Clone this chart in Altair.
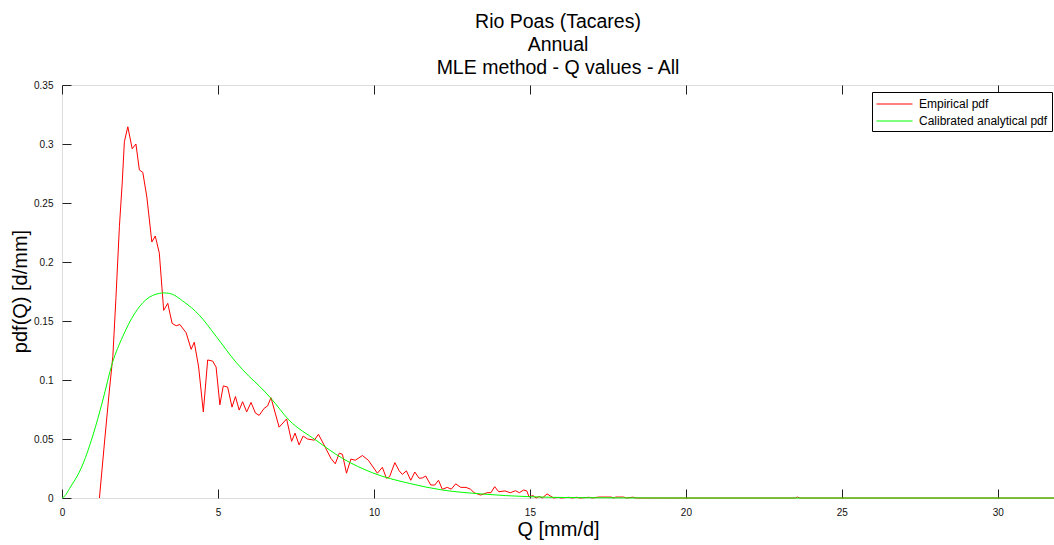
import altair as alt
import pandas as pd

series_names = ["Empirical pdf", "Calibrated analytical pdf"]
series_colors = ["#ff0000", "#00ff00"]

emp_q = [1.2, 1.36, 1.52, 1.63, 1.73, 1.84, 1.93, 2.0, 2.11, 2.25, 2.37, 2.48, 2.59, 2.72,
         2.88, 2.99, 3.12, 3.26, 3.39, 3.53, 3.66, 3.78, 3.98, 4.14, 4.24, 4.38, 4.53, 4.67,
         4.83, 4.94, 5.06, 5.17, 5.31, 5.45, 5.56, 5.68, 5.79, 5.92, 6.06, 6.2, 6.32, 6.48,
         6.59, 6.70, 6.96, 7.2, 7.36, 7.47, 7.6, 7.73, 7.87, 8.09, 8.22, 8.4, 8.62, 8.76,
         8.89, 8.99, 9.12, 9.26, 9.40, 9.63, 9.82, 10.11, 10.27, 10.4, 10.5, 10.67, 10.81,
         10.91, 11.04, 11.18, 11.31, 11.45, 11.55, 11.66, 11.82, 11.95, 12.07, 12.19, 12.35,
         12.48, 12.62, 12.78, 12.95, 13.1, 13.21, 13.42, 13.63, 13.75, 13.87, 14.0, 14.2,
         14.37, 14.54, 14.66, 14.8, 14.9, 14.97, 15.1, 15.2, 15.3, 15.4, 15.55, 15.65, 15.76,
         15.9, 16.0, 16.25, 16.35, 16.5, 16.6, 16.9, 17.0, 17.2, 17.6, 17.7, 17.75, 18.0,
         18.1, 18.3, 18.4, 23.5, 23.57, 23.65, 31.8]
emp_pdf = [0.0, 0.0466, 0.0915, 0.12, 0.17, 0.23, 0.267, 0.302, 0.3146, 0.296, 0.300, 0.278,
           0.276, 0.255, 0.217, 0.222, 0.2075, 0.159, 0.165, 0.148, 0.146, 0.147, 0.140,
           0.126, 0.132, 0.111, 0.073, 0.117, 0.116, 0.111, 0.079, 0.095, 0.094, 0.077,
           0.086, 0.0745, 0.0816, 0.073, 0.081, 0.072, 0.070, 0.076, 0.078, 0.085, 0.060,
           0.067, 0.048, 0.055, 0.045, 0.0525, 0.050, 0.049, 0.054, 0.045, 0.0336, 0.029,
           0.038, 0.037, 0.021, 0.033, 0.032, 0.036, 0.032, 0.021, 0.026, 0.0167, 0.018,
           0.030, 0.023, 0.020, 0.023, 0.015, 0.022, 0.0167, 0.017, 0.0186, 0.011, 0.011,
           0.015, 0.0074, 0.009, 0.0075, 0.012, 0.009, 0.009, 0.0074, 0.0045, 0.0025,
           0.0045, 0.0045, 0.0096, 0.0053, 0.006, 0.0045, 0.0062, 0.0045, 0.0068, 0.006,
           0.001, 0.002, 0.0, 0.0013, 0.0, 0.0035, 0.0018, 0.0, 0.0005, 0.0, 0.0006, 0.0,
           0.0006, 0.0, 0.0006, 0.0, 0.0008, 0.0008, 0.0, 0.0008, 0.0008, 0.0, 0.0007, 0.0,
           0.0, 0.0008, 0.0, 0.0]

fit_q = [0.0, 0.1, 0.24, 0.61, 0.99, 1.31, 1.61, 1.95, 2.32, 2.69, 3.12, 3.25, 3.44, 3.92,
         4.40, 4.94, 5.58, 6.0, 6.32, 6.70, 7.28, 8.14, 8.99, 9.95, 11.13, 12.19, 13.47,
         14.97, 16.5, 18.0, 20.0, 25.0, 31.8]
fit_pdf = [0.0, 0.002, 0.008, 0.025, 0.053, 0.083, 0.114, 0.137, 0.156, 0.168, 0.1734,
           0.1738, 0.1734, 0.166, 0.155, 0.137, 0.115, 0.103, 0.095, 0.0844, 0.066, 0.049,
           0.0336, 0.0214, 0.0124, 0.0068, 0.0034, 0.0011, 0.0003, 0.0001, 0.0, 0.0, 0.0]

x_ticks = [0, 5, 10, 15, 20, 25, 30]
y_ticks = [0, 0.05, 0.1, 0.15, 0.2, 0.25, 0.3, 0.35]

title_lines = ["Rio Poas (Tacares)", "Annual", "MLE method - Q values - All"]

emp_df = pd.DataFrame({"Q": emp_q, "pdf": emp_pdf, "series": series_names[0],
                       "idx": range(len(emp_q))})
fit_df = pd.DataFrame({"Q": fit_q, "pdf": fit_pdf, "series": series_names[1],
                       "idx": range(len(fit_q))})

FONT = "Liberation Sans"

xscale = alt.Scale(domain=[0, 31.8], nice=False, zero=False)
yscale = alt.Scale(domain=[0, 0.35], nice=False)
cscale = alt.Scale(domain=series_names, range=series_colors)

legend = alt.Legend(title=None, orient="none", legendX=810, legendY=7,
                    fillColor="white", strokeColor="black", padding=4,
                    labelFont=FONT, labelFontSize=12, labelColor="black",
                    symbolType="M-1.07,0H4.07", symbolSize=196, symbolStrokeWidth=1.2,
                    labelOffset=27, rowPadding=3)

x_axis_bottom = alt.Axis(values=x_ticks, title="Q [mm/d]", offset=-9, tickSize=9,
                         domain=False, grid=False, labelPadding=9, labelFont=FONT,
                         labelFontSize=10, labelColor="#111", tickColor="#222",
                         titleFont=FONT, titleFontSize=20, titleFontWeight="normal",
                         titleColor="black", titleY=30, labelFlush=False)
x_axis_top = alt.Axis(values=x_ticks, title=None, orient="top", offset=-9, tickSize=9,
                      domain=False, grid=False, labels=False, tickColor="#222")
y_axis = alt.Axis(values=y_ticks, title="pdf(Q) [d/mm]", offset=-9, tickSize=9,
                  domain=False, grid=False, labelPadding=9, format="~g",
                  labelFont=FONT, labelFontSize=10, labelColor="#111", tickColor="#222",
                  titleFont=FONT, titleFontSize=20, titleFontWeight="normal",
                  titleColor="black", titleX=-41, titleY=206, labelFlush=False)

red = alt.Chart(emp_df).mark_line(strokeWidth=1, interpolate="linear").encode(
    x=alt.X("Q:Q", scale=xscale, axis=x_axis_bottom),
    y=alt.Y("pdf:Q", scale=yscale, axis=y_axis),
    color=alt.Color("series:N", scale=cscale, sort=series_names, legend=legend),
    order="idx:Q",
)
green = alt.Chart(fit_df).mark_line(strokeWidth=1, interpolate="monotone").encode(
    x=alt.X("Q:Q", scale=xscale, axis=x_axis_top),
    y=alt.Y("pdf:Q", scale=yscale, axis=y_axis),
    color=alt.Color("series:N", scale=cscale, sort=series_names, legend=legend),
    order="idx:Q",
)

chart = alt.layer(red, green).resolve_axis(x="independent").properties(
    width=992, height=413,
    autosize="none",
    padding={"left": 62, "top": 85, "right": 0, "bottom": 47},
    title=alt.TitleParams(text=title_lines, font=FONT, fontSize=19.5, fontWeight="normal",
                          color="black", lineHeight=23, offset=2, anchor="middle"),
).configure_view(stroke="#404040", strokeWidth=1).configure(background="white")

chart.save("out.html", embed_options={"renderer": "svg", "actions": False})
